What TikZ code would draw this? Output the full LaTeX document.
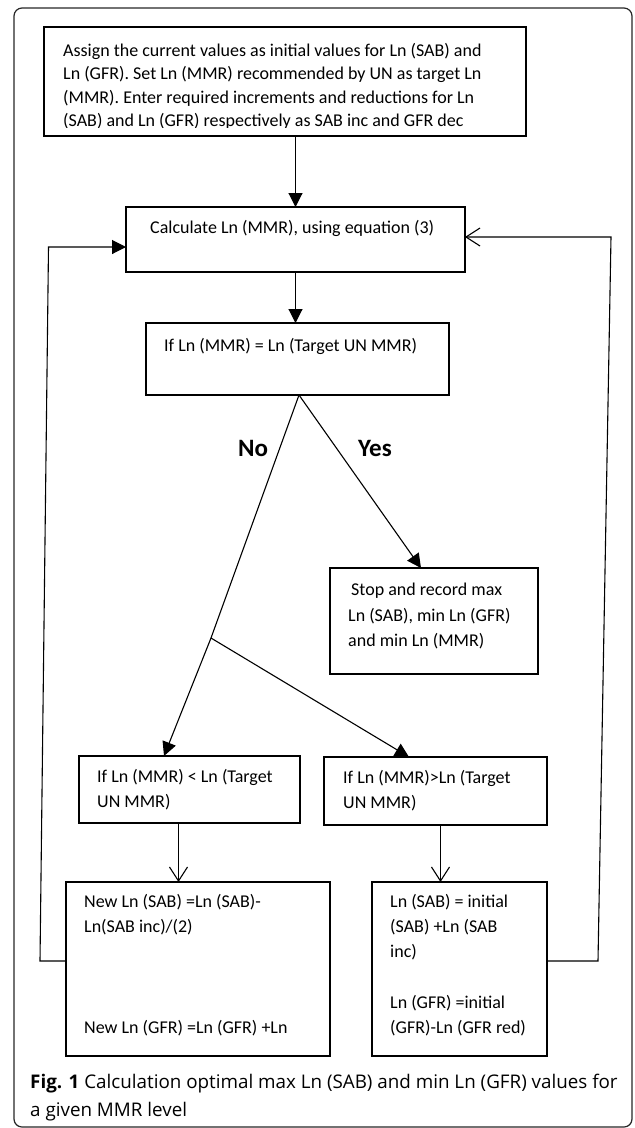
\documentclass[tikz,border=0pt]{standalone}
\usepackage{fontspec}
\setmainfont{Carlito}
\newfontfamily\capfont{Open Sans}
\usetikzlibrary{arrows.meta}
\begin{document}
\begin{tikzpicture}[x=1pt,y=-1pt,
  boxn/.style={draw, line width=1.3pt, anchor=north west, inner sep=0pt, outer sep=0pt},
  txt/.style={anchor=base west, inner sep=0pt, font=\fontsize{18}{23}\selectfont},
  conn/.style={line width=1.1pt},
  flow/.style={line width=1.1pt, -{Triangle[length=14pt,width=14pt]}},
  openarr/.style={line width=1.1pt, -{Straight Barb[length=14pt,width=18pt,line width=1.1pt]}},
  lbl/.style={anchor=base, inner sep=0pt, font=\fontsize{25}{28}\selectfont\bfseries},
  captxt/.style={anchor=base west, inner sep=0pt, font=\capfont\fontsize{18.8}{27}\selectfont}]
\useasboundingbox (0,0) rectangle (635,1128);
% outer frame
\draw[line width=1.2pt, rounded corners=8pt, black!85] (14,8) rectangle (632,1127);
% boxes
\node[boxn, minimum width=482pt, minimum height=109pt] (top) at (44,27) {};
\node[boxn, minimum width=339pt, minimum height=65pt] (calc) at (126,207) {};
\node[boxn, minimum width=303pt, minimum height=72pt] (if) at (146,323) {};
\node[boxn, minimum width=208pt, minimum height=106pt] (stop) at (330,568) {};
\node[boxn, minimum width=221pt, minimum height=67pt] (lcond) at (79,756) {};
\node[boxn, minimum width=223pt, minimum height=68pt] (rcond) at (324,757) {};
\node[boxn, minimum width=264pt, minimum height=174pt] (lbot) at (66,882) {};
\node[boxn, minimum width=175pt, minimum height=174pt] (rbot) at (372,882) {};
% top text (last line clipped)
\begin{scope}
\clip (45,28) rectangle (525,127);
\node[txt] (t1) at (63,56) {Assign the current values as initial values for Ln (SAB) and};
\node[txt] (t2) at (63,79.5) {Ln (GFR). Set Ln (MMR) recommended by UN as target Ln};
\node[txt] (t3) at (63,103) {(MMR). Enter required increments and reductions for Ln};
\node[txt] (t4) at (63,126.5) {(SAB) and Ln (GFR) respectively as SAB inc and GFR dec};
\end{scope}
\node[txt] (c1) at (150,233.5) {Calculate Ln (MMR), using equation (3)};
\node[txt] (i1) at (164,351) {If Ln (MMR) = Ln (Target UN MMR)};
\node[txt] (s1) at (351,595) {Stop and record max};
\node[txt] (s2) at (348,621) {Ln (SAB), min Ln (GFR)};
\node[txt] (s3) at (348,646) {and min Ln (MMR)};
\node[txt] (lc1) at (97,782) {If Ln (MMR) < Ln (Target};
\node[txt] (lc2) at (97,807) {UN MMR)};
\node[txt] (rc1) at (343,783) {If Ln (MMR)>Ln (Target};
\node[txt] (rc2) at (343,808) {UN MMR)};
\node[txt] (lb1) at (84,907) {New Ln (SAB) =Ln (SAB)-};
\node[txt] (lb2) at (84,932) {Ln(SAB inc)/(2)};
\node[txt] (lb3) at (84,1033) {New Ln (GFR) =Ln (GFR) +Ln};
\node[txt] (rb1) at (390,907) {Ln (SAB) = initial};
\node[txt] (rb2) at (390,932) {(SAB) +Ln (SAB};
\node[txt] (rb3) at (390,957) {inc)};
\node[txt] (rb4) at (390,1008) {Ln (GFR) =initial};
\node[txt] (rb5) at (390,1033) {(GFR)-Ln (GFR red)};
% labels
\node[lbl] (no) at (253,456) {No};
\node[lbl] (yes) at (375,456) {Yes};
% caption
\node[captxt] (cap1) at (30,1088) {\textbf{Fig. 1} Calculation optimal max Ln (SAB) and min Ln (GFR) values for};
\node[captxt] (cap2) at (30,1116) {a given MMR level};
% connectors
\draw[flow] (calc.north |- top.south) -- (calc.north);
\draw[flow] (calc.south) -- (calc.south |- if.north);
\coordinate (ifo) at ([xshift=1.5pt]if.south);
\coordinate (br) at (211,638);
\draw[conn] (ifo) -- (br);
\draw[flow] (br) -- ([xshift=85pt]lcond.north west);
\draw[flow] (br) -- ([xshift=85pt]rcond.north west);
\draw[flow] (ifo) -- ([xshift=91pt]stop.north west);
\draw[openarr] ([xshift=99.5pt]lcond.south west) -- ([xshift=112.5pt]lbot.north west);
\draw[openarr] ([xshift=116.5pt]rcond.south west) -- ([xshift=68.5pt]rbot.north west);
\coordinate (ll1) at (40,961);
\coordinate (ll2) at (48.5,247);
\draw[flow] ([yshift=8pt]lbot.west) -- (ll1) -- (ll2) -- (ll2 -| calc.west);
\coordinate (rl1) at (598,961);
\coordinate (rl2) at (611,237);
\draw[openarr] ([yshift=8pt]rbot.east) -- (rl1) -- (rl2) -- (rl2 -| calc.east);
\end{tikzpicture}
\end{document}
